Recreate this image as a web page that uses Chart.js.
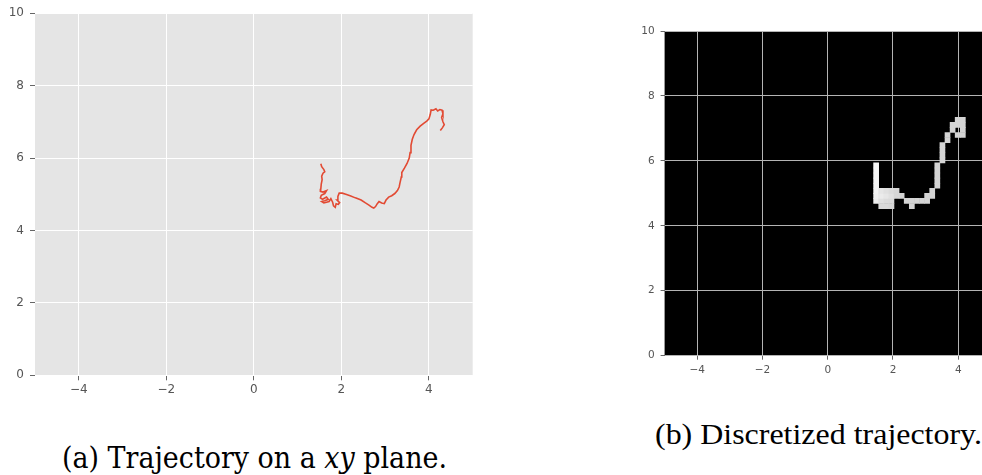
<!DOCTYPE html>
<html><head><meta charset="utf-8">
<script src="https://cdn.jsdelivr.net/npm/chart.js@4/dist/chart.umd.min.js"></script>
<style>
html,body{margin:0;padding:0;background:#fff;width:982px;height:475px;overflow:hidden;position:relative;}
#ca{position:absolute;left:0;top:0;}
#cb{position:absolute;left:620px;top:0;}
.cap{position:absolute;font-size:29px;line-height:29px;color:#000;white-space:nowrap;transform-origin:0 0;}
#capA{font-family:'DejaVu Serif';}
#capB{font-family:'Liberation Serif';}
</style></head><body>
<canvas id="ca" width="480" height="400"></canvas>
<canvas id="cb" width="380" height="400"></canvas>
<div class="cap" id="capA">(a) Trajectory on a <i>xy</i> plane.</div>
<div class="cap" id="capB">(b) Discretized trajectory.</div>
<script>
const xTicks = [-4, -2, 0, 2, 4];
const yTicks = [0, 2, 4, 6, 8, 10];

// (a) continuous trajectory
const trajX = [1.53,1.55,1.60,1.62,1.58,1.55,1.56,1.54,1.53,1.52,1.58,1.66,1.62,1.54,1.52,1.57,1.66,1.70,1.62,1.55,1.60,1.72,1.76,1.80,1.82,1.86,1.88,1.93,1.96,1.90,1.92,1.95,2.02,2.10,2.20,2.32,2.45,2.55,2.63,2.70,2.74,2.78,2.82,2.86,2.92,2.98,3.02,3.08,3.15,3.22,3.28,3.32,3.34,3.37,3.38,3.44,3.50,3.55,3.57,3.59,3.62,3.66,3.72,3.80,3.88,3.95,4.00,4.03,4.05,4.10,4.16,4.20,4.25,4.30,4.32,4.29,4.32,4.35,4.31,4.26];
const trajY = [5.84,5.76,5.68,5.62,5.58,5.50,5.40,5.28,5.15,5.08,5.06,5.10,5.02,4.97,4.90,4.86,4.92,4.86,4.82,4.80,4.76,4.80,4.88,4.78,4.68,4.64,4.74,4.72,4.77,4.84,4.94,5.03,5.03,5.00,4.96,4.90,4.84,4.76,4.70,4.64,4.62,4.66,4.74,4.80,4.76,4.74,4.84,4.92,4.96,5.02,5.10,5.20,5.32,5.48,5.60,5.72,5.85,6.00,6.15,6.35,6.52,6.65,6.78,6.88,6.96,7.02,7.08,7.20,7.33,7.32,7.36,7.30,7.34,7.32,7.22,7.12,7.00,6.92,6.84,6.76];

// (b) discretized cells (centres, bin size, grey level)
const cellSize = 0.15625;
const cellX = [1.484,1.484,1.484,1.484,1.484,1.484,1.484,1.484,
  1.641,1.641,1.641,1.641, 1.797,1.797,1.797,1.797, 1.953,1.953,1.953,1.953,
  2.109,2.109, 2.266, 2.422, 2.578,2.578, 2.734, 2.891, 3.047,3.047, 3.203,3.203,
  3.359,3.359,3.359,3.359,3.359, 3.516,3.516,3.516,3.516, 3.672,3.672, 3.828,3.828,
  3.984,3.984,3.984, 4.141,4.141,4.141,4.141];
const cellY = [4.766,4.922,5.078,5.234,5.391,5.547,5.703,5.859,
  4.609,4.766,4.922,5.078, 4.609,4.766,4.922,5.078, 4.609,4.766,4.922,5.078,
  4.922,5.078, 4.922, 4.766, 4.609,4.766, 4.766, 4.766, 4.766,4.922, 4.922,5.078,
  5.234,5.391,5.547,5.703,5.859, 6.016,6.172,6.328,6.484, 6.641,6.797, 6.953,7.109,
  6.797,7.109,7.266, 6.797,6.953,7.109,7.266];
const cellV = [0.93,0.95,0.96,0.97,0.97,0.97,0.97,0.97,
  0.85,0.88,0.92,0.90, 0.85,0.86,0.90,0.88, 0.84,0.85,0.88,0.86,
  0.84,0.84, 0.83, 0.83, 0.83,0.83, 0.83, 0.83, 0.83,0.83, 0.83,0.83,
  0.83,0.83,0.83,0.83,0.83, 0.83,0.83,0.83,0.83, 0.83,0.83, 0.83,0.83,
  0.83,0.83,0.83, 0.83,0.83,0.83,0.83];

const bgPlugin = {
  id: 'bgFill',
  beforeDraw(chart, args, opts) {
    const {ctx, chartArea: a} = chart;
    ctx.save();
    ctx.fillStyle = opts.color;
    ctx.fillRect(a.left, a.top, a.right - a.left, a.bottom - a.top);
    ctx.restore();
  }
};
const minus = v => String(v).replace('-', '\u2212');

function axis(vals, min, max, o) {
  return {
    type: 'linear', min: min, max: max, z: o.z || 0,
    afterBuildTicks: s => { s.ticks = vals.map(v => ({value: v})); },
    afterFit: s => { if (s.isHorizontal()) s.height = o.size; else s.width = o.size; },
    grid: {color: o.grid, lineWidth: 1, tickColor: o.tickColor, tickLength: o.tickLen, drawTicks: true},
    border: {display: false},
    ticks: {color: '#555', font: {family: 'DejaVu Sans', size: o.font}, padding: o.pad,
      maxRotation: 0, autoSkip: false, callback: minus}
  };
}

new Chart(document.getElementById('ca'), {
  type: 'scatter',
  data: {datasets: [{
    data: trajX.map((x, i) => ({x: x, y: trajY[i]})),
    showLine: true, borderColor: '#E24A33', borderWidth: 1.6, pointRadius: 0, tension: 0, fill: false
  }]},
  options: {
    responsive: false, animation: false, events: [],
    layout: {padding: {top: 12.7, right: 7.3, left: 0, bottom: 0}},
    plugins: {legend: {display: false}, tooltip: {enabled: false}, bgFill: {color: '#E5E5E5'}},
    scales: {
      x: axis(xTicks, -5, 5, {size: 24.7, grid: '#ffffff', tickColor: '#666', tickLen: 5, font: 12, pad: 2}),
      y: axis(yTicks, 0, 10, {size: 35, grid: '#ffffff', tickColor: '#666', tickLen: 5, font: 12, pad: 6})
    }
  },
  plugins: [bgPlugin]
});

new Chart(document.getElementById('cb'), {
  type: 'scatter',
  data: {datasets: [{
    data: cellX.map((x, i) => ({x: x, y: cellY[i]})),
    pointStyle: 'rect', borderWidth: 0,
    backgroundColor: ctx => { const g = Math.round(cellV[ctx.dataIndex] * 255); return 'rgb(' + g + ',' + g + ',' + g + ')'; },
    pointRadius: ctx => {
      const s = ctx.chart.scales.x;
      const side = Math.abs(s.getPixelForValue(cellSize) - s.getPixelForValue(0));
      return (side + 0.6) / Math.SQRT2;
    },
    pointHoverRadius: 0
  }]},
  options: {
    responsive: false, animation: false, events: [],
    layout: {padding: {top: 31, right: 9.15, left: 0, bottom: 0}},
    plugins: {legend: {display: false}, tooltip: {enabled: false}, bgFill: {color: '#000000'}},
    scales: {
      x: axis(xTicks, -5, 5, {size: 44.3, grid: '#b4b4b4', tickColor: '#666', tickLen: 4, font: 10.5, pad: 4.5, z: 1}),
      y: axis(yTicks, 0, 10, {size: 44.6, grid: '#b4b4b4', tickColor: '#666', tickLen: 4, font: 10.5, pad: 6, z: 1})
    }
  },
  plugins: [bgPlugin]
});

function fitCap(id, left, baseline, width) {
  const el = document.getElementById(id);
  el.style.left = left + 'px';
  el.style.top = (baseline - 24.3) + 'px';
  const w = el.getBoundingClientRect().width;
  el.style.transform = 'scaleX(' + (width / w) + ')';
}
fitCap('capA', 62, 468, 385);
fitCap('capB', 655, 444, 327);
</script>
</body></html>
